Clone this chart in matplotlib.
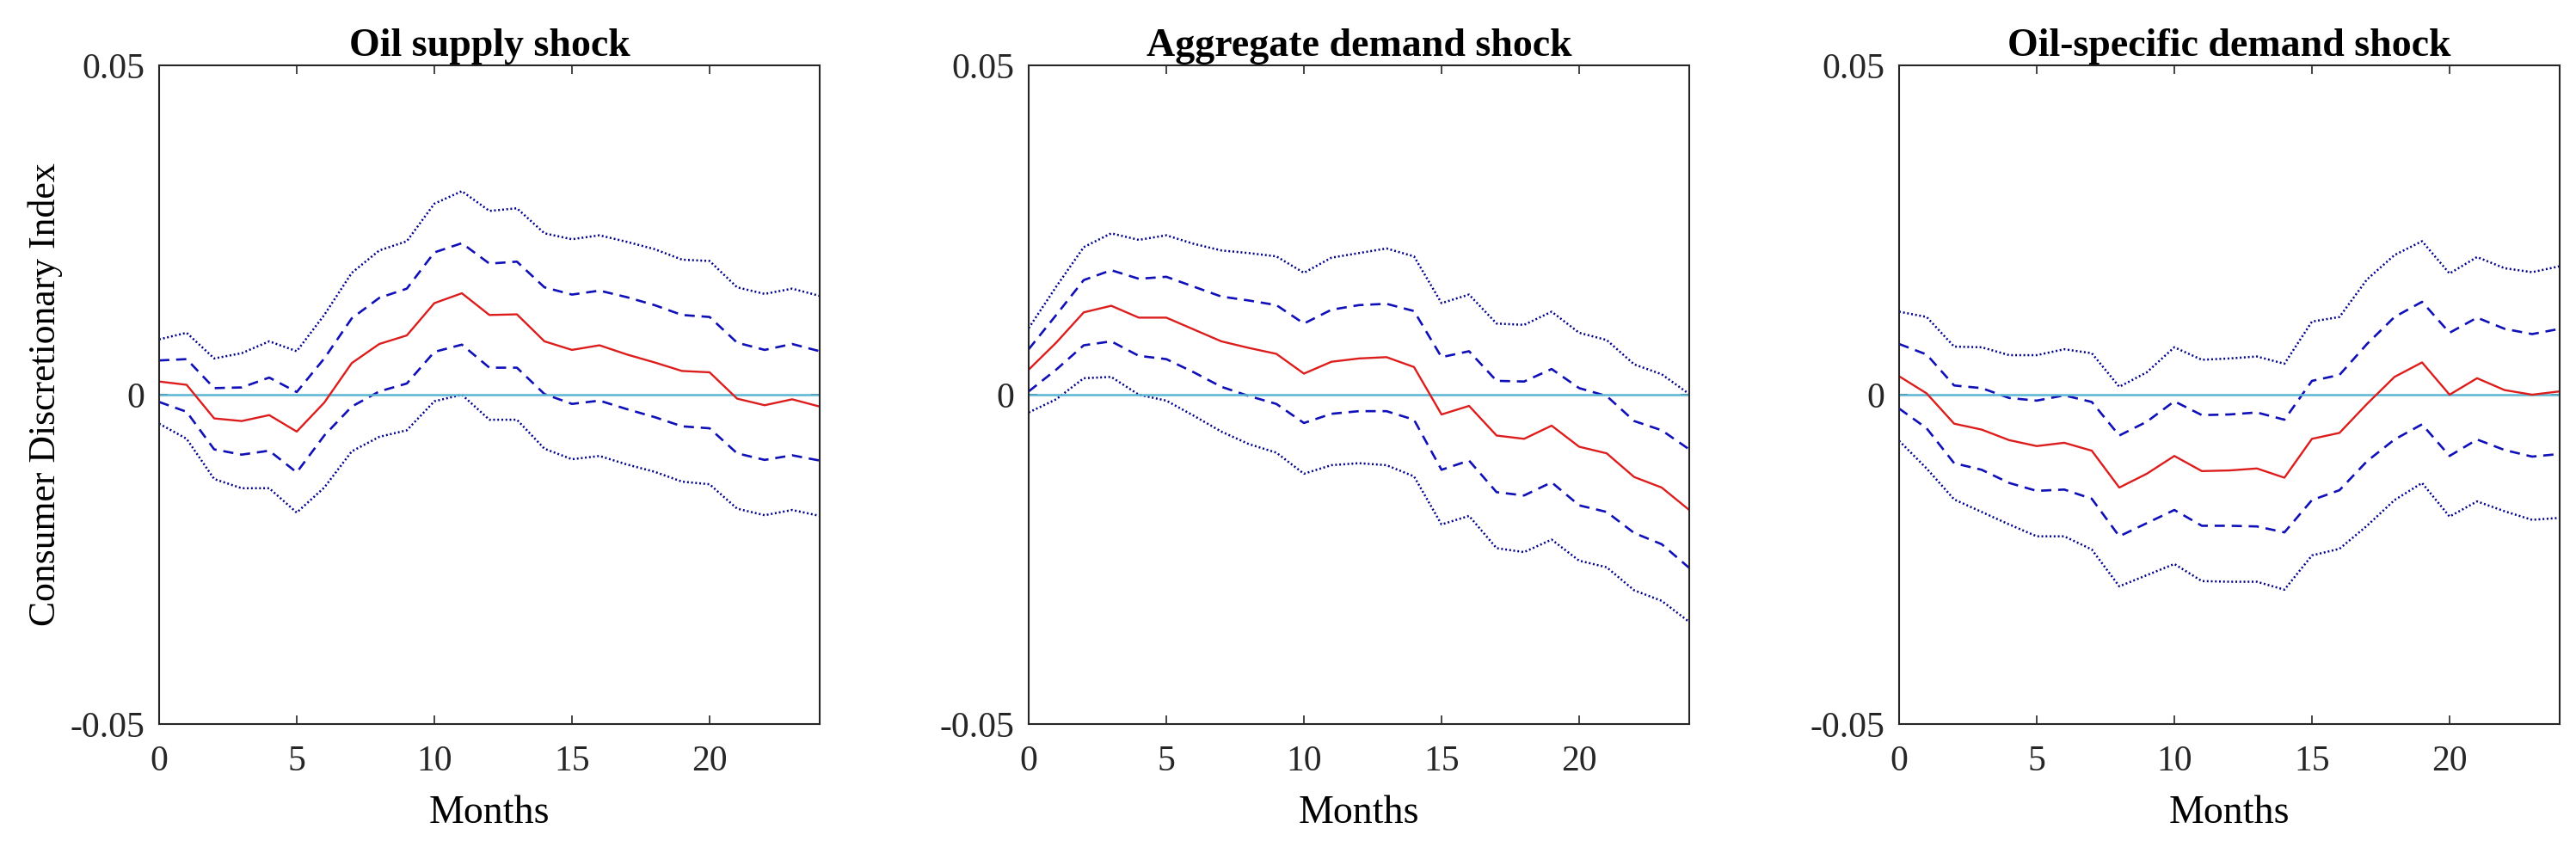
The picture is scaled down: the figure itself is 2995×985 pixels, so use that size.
import matplotlib
matplotlib.use("Agg")
import matplotlib.pyplot as plt
import numpy as np

plt.rcParams['font.family'] = ['Liberation Serif', 'DejaVu Serif']
plt.rcParams['axes.unicode_minus'] = False

# horizonte de meses
meses = list(range(25))
titulos = ['Oil supply shock', 'Aggregate demand shock', 'Oil-specific demand shock']

# Oil supply shock
sup_mid = [0.0020, 0.0015, -0.0036, -0.0040, -0.0031, -0.0056, -0.0012, 0.0048, 0.0077, 0.0090, 0.0139, 0.0154, 0.0121,
           0.0122, 0.0081, 0.0068, 0.0075, 0.0061, 0.0049, 0.0036, 0.0034, -0.0006, -0.0016, -0.0007, -0.0018]
sup_up1 = [0.0052, 0.0054, 0.0010, 0.0011, 0.0026, 0.0004, 0.0055, 0.0116, 0.0147, 0.0161, 0.0216, 0.0230, 0.0199,
           0.0202, 0.0163, 0.0152, 0.0158, 0.0148, 0.0136, 0.0121, 0.0118, 0.0079, 0.0068, 0.0077, 0.0066]
sup_lo1 = [-0.0011, -0.0026, -0.0083, -0.0091, -0.0085, -0.0118, -0.0062, -0.0018, 0.0005, 0.0017, 0.0065, 0.0076, 0.0041,
           0.0041, 0.0001, -0.0014, -0.0009, -0.0022, -0.0034, -0.0048, -0.0051, -0.0089, -0.0099, -0.0092, -0.0100]
sup_up2 = [0.0084, 0.0094, 0.0055, 0.0063, 0.0081, 0.0066, 0.0121, 0.0185, 0.0219, 0.0233, 0.0290, 0.0309, 0.0279,
           0.0283, 0.0245, 0.0236, 0.0242, 0.0232, 0.0221, 0.0205, 0.0203, 0.0163, 0.0153, 0.0161, 0.0150]
sup_lo2 = [-0.0044, -0.0067, -0.0128, -0.0142, -0.0142, -0.0179, -0.0141, -0.0086, -0.0064, -0.0054, -0.0010, -0.0000, -0.0038,
           -0.0038, -0.0082, -0.0098, -0.0093, -0.0106, -0.0117, -0.0132, -0.0136, -0.0173, -0.0183, -0.0175, -0.0184]

# Aggregate demand shock
agg_mid = [0.0038, 0.0079, 0.0125, 0.0135, 0.0117, 0.0117, 0.0099, 0.0081, 0.0071, 0.0062, 0.0032, 0.0050, 0.0055,
           0.0057, 0.0042, -0.0030, -0.0017, -0.0062, -0.0067, -0.0047, -0.0079, -0.0089, -0.0125, -0.0141, -0.0175]
agg_up1 = [0.0069, 0.0121, 0.0174, 0.0189, 0.0176, 0.0179, 0.0164, 0.0149, 0.0143, 0.0136, 0.0108, 0.0129, 0.0136,
           0.0138, 0.0127, 0.0057, 0.0066, 0.0021, 0.0020, 0.0039, 0.0010, -0.0002, -0.0040, -0.0054, -0.0083]
agg_lo1 = [0.0005, 0.0038, 0.0075, 0.0081, 0.0059, 0.0054, 0.0034, 0.0012, -0.0002, -0.0014, -0.0043, -0.0029, -0.0025,
           -0.0025, -0.0038, -0.0114, -0.0100, -0.0148, -0.0153, -0.0133, -0.0168, -0.0178, -0.0210, -0.0227, -0.0263]
agg_up2 = [0.0101, 0.0164, 0.0224, 0.0245, 0.0235, 0.0242, 0.0229, 0.0219, 0.0215, 0.0210, 0.0185, 0.0208, 0.0215,
           0.0222, 0.0210, 0.0139, 0.0152, 0.0108, 0.0106, 0.0126, 0.0094, 0.0083, 0.0046, 0.0031, 0.0001]
agg_lo2 = [-0.0027, -0.0007, 0.0025, 0.0027, -0.0000, -0.0009, -0.0032, -0.0056, -0.0075, -0.0088, -0.0120, -0.0107, -0.0104,
           -0.0107, -0.0124, -0.0197, -0.0184, -0.0233, -0.0239, -0.0220, -0.0252, -0.0262, -0.0297, -0.0313, -0.0345]

# Oil-specific demand shock
oil_mid = [0.0028, 0.0002, -0.0044, -0.0053, -0.0069, -0.0078, -0.0073, -0.0085, -0.0141, -0.0120, -0.0093, -0.0116, -0.0115,
           -0.0112, -0.0126, -0.0067, -0.0058, -0.0014, 0.0027, 0.0049, -0.0000, 0.0025, 0.0007, -0.0000, 0.0005]
oil_up1 = [0.0077, 0.0061, 0.0014, 0.0010, -0.0005, -0.0009, -0.0001, -0.0011, -0.0062, -0.0041, -0.0010, -0.0031, -0.0030,
           -0.0027, -0.0038, 0.0021, 0.0030, 0.0077, 0.0118, 0.0141, 0.0094, 0.0117, 0.0100, 0.0092, 0.0100]
oil_lo1 = [-0.0021, -0.0051, -0.0104, -0.0114, -0.0134, -0.0146, -0.0144, -0.0158, -0.0215, -0.0195, -0.0175, -0.0199, -0.0199,
           -0.0200, -0.0209, -0.0160, -0.0145, -0.0101, -0.0068, -0.0045, -0.0093, -0.0068, -0.0084, -0.0094, -0.0090]
oil_up2 = [0.0126, 0.0118, 0.0073, 0.0072, 0.0060, 0.0060, 0.0069, 0.0063, 0.0012, 0.0034, 0.0072, 0.0053, 0.0055,
           0.0058, 0.0047, 0.0111, 0.0118, 0.0175, 0.0212, 0.0233, 0.0184, 0.0209, 0.0192, 0.0186, 0.0195]
oil_lo2 = [-0.0070, -0.0112, -0.0159, -0.0178, -0.0197, -0.0215, -0.0215, -0.0235, -0.0291, -0.0274, -0.0257, -0.0283, -0.0284,
           -0.0284, -0.0296, -0.0244, -0.0234, -0.0199, -0.0160, -0.0134, -0.0185, -0.0162, -0.0177, -0.0190, -0.0187]

paneles = [
    (sup_mid, sup_up1, sup_lo1, sup_up2, sup_lo2),
    (agg_mid, agg_up1, agg_lo1, agg_up2, agg_lo2),
    (oil_mid, oil_up1, oil_lo1, oil_up2, oil_lo2),
]

# posiciones de los ejes en fracciones de la figura
lefts = [185/2995, 1196/2995, 2208/2995]
ancho = 768/2995
abajo = 1 - 842/985
alto = 766/985

fig = plt.figure(figsize=(29.95, 9.85), dpi=100)

for k, (mid, up1, lo1, up2, lo2) in enumerate(paneles):
    ax = fig.add_axes([lefts[k], abajo, ancho, alto])
    ax.plot(meses, up2, color='#00008b', linestyle=(0, (0.8, 1.1)), linewidth=1.8)
    ax.plot(meses, lo2, color='#00008b', linestyle=(0, (0.8, 1.1)), linewidth=1.8)
    ax.plot(meses, up1, color='#1010b8', linestyle=(0, (4.5, 3.0)), linewidth=1.9)
    ax.plot(meses, lo1, color='#1010b8', linestyle=(0, (4.5, 3.0)), linewidth=1.9)
    ax.axhline(0, color='#5bb5d5', linewidth=1.8)
    ax.plot(meses, mid, color='#dd1c1c', linewidth=1.7)

    ax.set_xlim(0, 24)
    ax.set_ylim(-0.05, 0.05)
    ax.set_xticks([0, 5, 10, 15, 20])
    ax.set_yticks([-0.05, 0, 0.05])
    ax.set_yticklabels(['-0.05', '0', '0.05'])
    ax.tick_params(direction='in', length=7, width=1.2, labelsize=30, top=True, right=True,
                   colors='#262626')
    ax.tick_params(axis='x', pad=18)
    ax.tick_params(axis='y', pad=12)
    for s in ax.spines.values():
        s.set_color('#262626')
        s.set_linewidth(1.5)
    ax.set_title(titulos[k], fontsize=33, fontweight='bold', pad=8)
    ax.set_xlabel('Months', fontsize=33, labelpad=14)
    if k == 0:
        ax.set_ylabel('Consumer Discretionary Index', fontsize=31.5, labelpad=6)

fig.savefig('out.png', dpi=100)
